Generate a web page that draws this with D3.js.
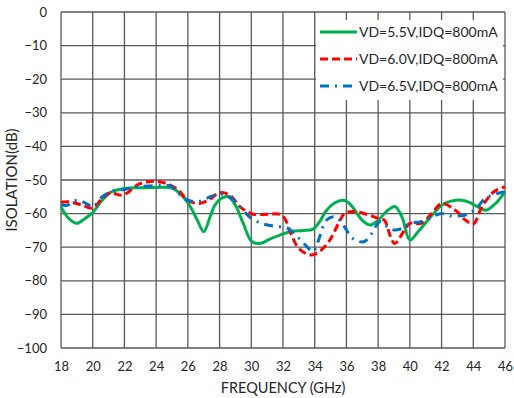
<!DOCTYPE html>
<html>
<head>
<meta charset="utf-8">
<script src="https://cdn.jsdelivr.net/npm/d3@7"></script>
<style>
  body { margin: 0; background: #fff; }
  text { font-family: Lato, "Open Sans", sans-serif; fill: #262626; }
</style>
</head>
<body>
<script>
// data
var xTicks = [18, 20, 22, 24, 26, 28, 30, 32, 34, 36, 38, 40, 42, 44, 46];
var yTicks = [0, -10, -20, -30, -40, -50, -60, -70, -80, -90, -100];

var freq55 = [18, 18.5, 19, 19.5, 20, 20.6, 21.2, 22, 23, 24, 25, 25.5, 26.1, 26.6, 27, 27.4, 27.7, 28.1, 28.55, 29, 29.5, 30.05, 30.6, 31.2, 31.8, 32.5, 33.3, 33.9, 34.3, 34.7, 35.2, 35.8, 36.2, 36.6, 37, 37.5, 38, 38.5, 39.05, 39.5, 40, 40.5, 41, 41.5, 42, 42.6, 43.25, 43.8, 44.2, 44.8, 45.4, 46];
var iso55 = [-58, -61.5, -62.9, -61.5, -59.7, -56, -53.5, -52.5, -52.3, -52.2, -52.4, -54, -57.5, -62, -65.4, -61, -57.5, -55.5, -55, -57.5, -63, -68.4, -68.8, -67.5, -66.4, -65.3, -65, -64.6, -62.5, -59.3, -57, -56, -57, -59.5, -62, -63.4, -62, -59.5, -57.9, -61, -67.9, -65.5, -62.7, -60, -57.5, -56.3, -56, -56.7, -57.8, -59, -57, -53.5];

var freq60 = [18, 18.5, 19, 19.5, 20, 20.6, 21.1, 21.5, 21.8, 22.2, 22.8, 23.5, 24.2, 24.9, 25.4, 26, 26.65, 27.3, 28, 28.65, 29.3, 30.06, 31, 31.8, 32.1, 32.5, 32.9, 33.3, 33.8, 34.3, 34.95, 35.5, 35.9, 36.5, 37.4, 38, 38.4, 38.75, 39.05, 39.6, 40, 40.7, 41.4, 42, 42.85, 43.5, 44, 44.55, 45.3, 46];
var iso60 = [-56.6, -56.5, -57, -57.8, -58.4, -55.5, -53.8, -54.2, -54.5, -53.8, -51.5, -50.5, -50.5, -51.5, -53, -56, -57, -56, -53.8, -54.5, -58, -60.1, -60.2, -60.2, -61.4, -65.9, -69.8, -71.5, -72.3, -71.3, -67.9, -62.9, -59.9, -59.4, -60.4, -61.4, -62, -66.5, -68.9, -65.4, -62.9, -62.9, -59.9, -57, -58.9, -61.9, -63.1, -57.9, -53.5, -52];

var freq65 = [18, 18.4, 19, 19.6, 20, 20.6, 21.3, 22, 22.8, 23.5, 24.35, 24.9, 25.4, 26, 26.65, 27.7, 28.45, 29.3, 29.9, 30.65, 31.5, 32.3, 33.4, 33.9, 34.2, 34.75, 35.3, 35.8, 36.4, 37.1, 37.6, 38.1, 38.6, 39, 39.5, 40, 40.7, 41.4, 42, 42.6, 43.5, 44.1, 44.75, 45.4, 46];
var iso65 = [-57.4, -57.5, -56, -57, -58, -55, -53.2, -52.8, -52, -51.8, -51.5, -51.8, -54, -56, -56.4, -54.5, -54.5, -58, -61, -62.9, -63.8, -64.4, -69.3, -71.3, -68.4, -61.9, -61, -63.4, -67.4, -68.4, -65.9, -62.4, -64, -64.9, -64.4, -62.9, -62.4, -61, -60, -60.7, -60.4, -58.9, -55.5, -54.2, -53.5];

var seriesNames = ["VD=5.5V,IDQ=800mA", "VD=6.0V,IDQ=800mA", "VD=6.5V,IDQ=800mA"];
var seriesColors = ["#00B050", "#FF0000", "#0070C0"];
var seriesDash = [null, "8,4", "9,6,2,6"];

var margin = {top: 12, right: 9, bottom: 50, left: 61},
    width = 514 - margin.left - margin.right,
    height = 398 - margin.top - margin.bottom;

var x = d3.scaleLinear().domain([18, 46]).range([0, width]);
var y = d3.scaleLinear().domain([-100, 0]).range([height, 0]);

var svg = d3.select("body").append("svg")
    .attr("width", 514)
    .attr("height", 398)
  .append("g")
    .attr("transform", "translate(" + margin.left + "," + margin.top + ")");

// grid
svg.append("g").selectAll("line.v")
  .data(xTicks).enter().append("line")
  .attr("x1", function(d) { return x(d); }).attr("x2", function(d) { return x(d); })
  .attr("y1", 0).attr("y2", height)
  .attr("stroke", "#595959").attr("stroke-width", 1.3);

svg.append("g").selectAll("line.h")
  .data(yTicks).enter().append("line")
  .attr("y1", function(d) { return y(d); }).attr("y2", function(d) { return y(d); })
  .attr("x1", 0).attr("x2", width)
  .attr("stroke", "#595959").attr("stroke-width", 1.3);

// axes (labels only)
var xAxis = svg.append("g")
  .attr("transform", "translate(0," + height + ")")
  .call(d3.axisBottom(x).tickValues(xTicks).tickSize(0).tickPadding(14));
var yAxis = svg.append("g")
  .call(d3.axisLeft(y).tickValues(yTicks).tickSize(0).tickPadding(14));
[xAxis, yAxis].forEach(function(a) {
  a.select(".domain").remove();
  a.selectAll("text").attr("font-size", "13px").attr("font-family", "Lato, sans-serif").attr("fill", "#262626");
});

// lines
var line = d3.line()
  .x(function(d) { return x(d[0]); })
  .y(function(d) { return y(d[1]); })
  .curve(d3.curveCatmullRom.alpha(0.5));

var series = [d3.zip(freq55, iso55), d3.zip(freq60, iso60), d3.zip(freq65, iso65)];
[0, 1, 2].forEach(function(i) {
  svg.append("path")
    .datum(series[i])
    .attr("fill", "none")
    .attr("stroke", seriesColors[i])
    .attr("stroke-width", 3)
    .attr("stroke-dasharray", seriesDash[i])
    .attr("d", line);
});

// legend
var lg = svg.append("g").attr("transform", "translate(" + (316 - margin.left) + "," + (20 - margin.top) + ")");
lg.append("rect").attr("width", 187).attr("height", 80).attr("fill", "#fff");
seriesNames.forEach(function(n, i) {
  var yy = 12 + i * 27;
  lg.append("line")
    .attr("x1", 4).attr("x2", 41).attr("y1", yy).attr("y2", yy)
    .attr("stroke", seriesColors[i]).attr("stroke-width", 3)
    .attr("stroke-dasharray", seriesDash[i]);
  lg.append("text")
    .attr("x", 43).attr("y", yy + 5)
    .attr("font-size", "14px")
    .text(n);
});

// axis titles
svg.append("text")
  .attr("text-anchor", "middle")
  .attr("x", width / 2)
  .attr("y", height + 45)
  .attr("font-size", "14.5px")
  .text("FREQUENCY (GHz)");

svg.append("text")
  .attr("text-anchor", "middle")
  .attr("transform", "translate(" + (17 - margin.left) + "," + (height / 2) + ") rotate(-90)")
  .attr("font-size", "15px")
  .text("ISOLATION(dB)");
</script>
</body>
</html>
